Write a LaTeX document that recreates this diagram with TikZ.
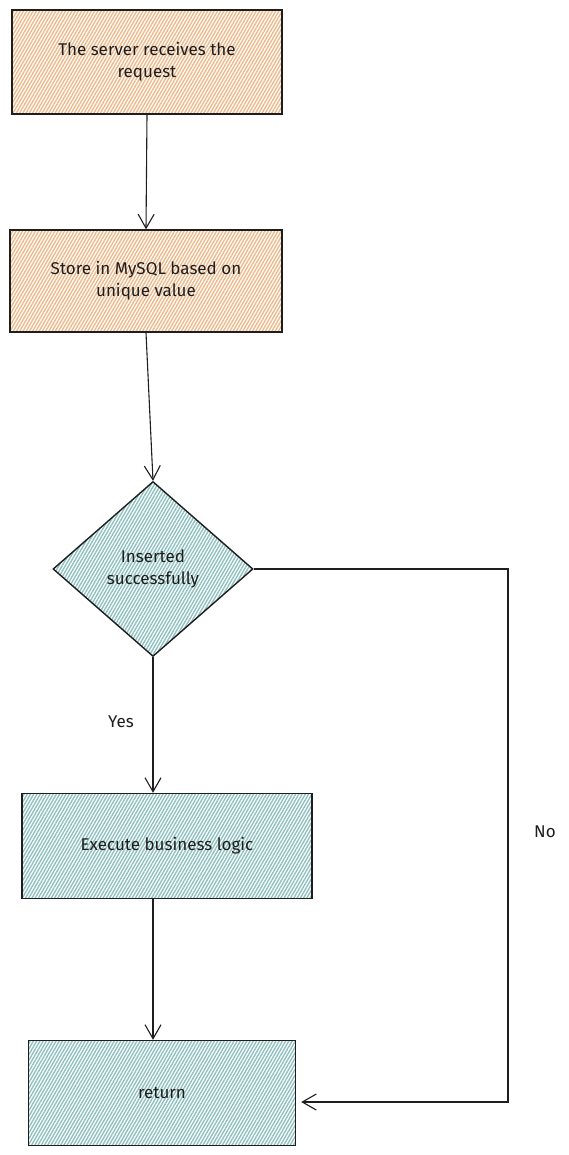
\documentclass[tikz,border=0pt]{standalone}
\usepackage{fontspec}
\setmainfont{Fira Sans}
\usetikzlibrary{shapes.geometric,arrows.meta,patterns.meta}

\definecolor{inkline}{HTML}{1E1E1E}
\definecolor{hatchorange}{HTML}{EDB98A}
\definecolor{hatchteal}{HTML}{8FC0C0}

\begin{document}
\begin{tikzpicture}[x=1pt,y=-1pt,
  stepbox/.style={draw=inkline, line width=1.4pt, rectangle, align=center,
    inner sep=0pt, font=\fontsize{17}{22}\selectfont, text=inkline},
  warmbox/.style={stepbox, pattern={Lines[angle=60,distance=2.8pt,line width=1.4pt]}, pattern color=hatchorange},
  coolbox/.style={stepbox, pattern={Lines[angle=60,distance=2.8pt,line width=1.4pt]}, pattern color=hatchteal},
  decide/.style={coolbox, diamond, minimum width=200pt, minimum height=175pt},
  flow/.style={draw=inkline, line width=1.1pt, -{Straight Barb[length=14pt,width=16pt]}},
  tag/.style={font=\fontsize{17}{22}\selectfont, text=inkline}]

  \useasboundingbox (0,0) rectangle (569,1155);

  % boxes
  \node[warmbox, minimum width=270pt, minimum height=104pt] (srv)   at (147,62)   {The server receives the\\request};
  \node[warmbox, minimum width=272pt, minimum height=102pt] (store) at (146,281)  {Store in MySQL based on\\unique value};
  \node[decide]                                             (chk)   at (153,569)  {Inserted\\successfully};
  \node[coolbox, minimum width=290pt, minimum height=105pt] (biz)   at (167,846)  {Execute business logic};
  \node[coolbox, minimum width=267pt, minimum height=105pt] (ret)   at (162,1093) {return};

  % lines
  \foreach \source/\dest in {srv.south/store.north, store.south/chk.north}
    \draw[flow] (\source) -- (\dest);
  \draw[flow] (chk.south) -- (chk.south |- biz.north);
  \draw[flow] (chk.south |- biz.south) -- (chk.south |- ret.north);

  \coordinate (nocorner) at (508,1102);
  \draw[flow, shorten >=5pt] (chk.east) -| (nocorner) -- (nocorner -| ret.east);

  % labels
  \node[tag] (yes) at (121,722) {Yes};
  \node[tag] (no)  at (545,832) {No};

\end{tikzpicture}
\end{document}
